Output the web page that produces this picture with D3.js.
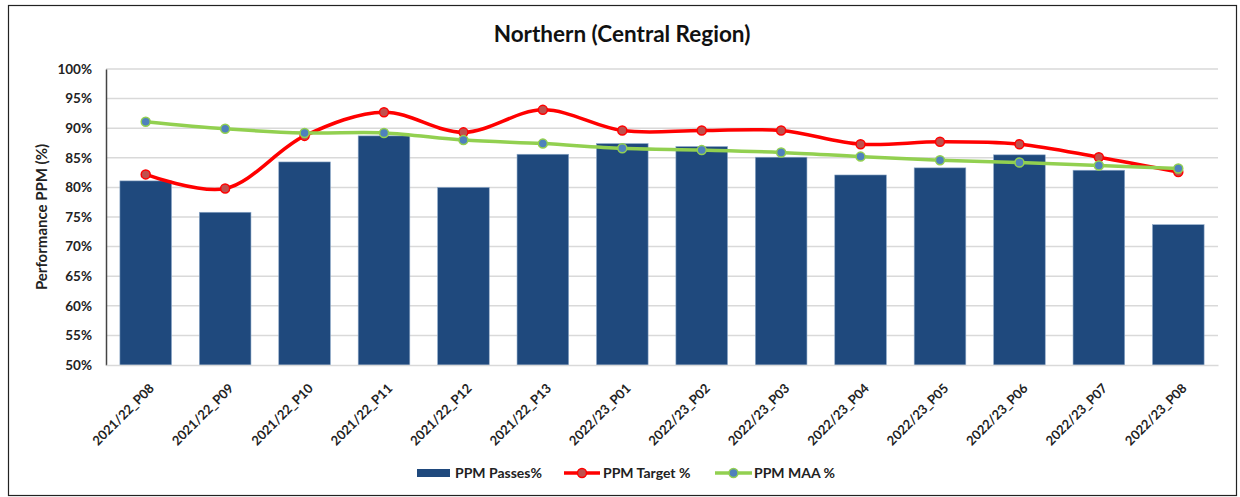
<!DOCTYPE html>
<html><head><meta charset="utf-8">
<script src="https://cdn.jsdelivr.net/npm/d3@7"></script>
<style>body{margin:0;background:#fff;}svg{display:block;font-family:Lato,"Open Sans",sans-serif;}</style>
</head><body><svg id="c" width="1240" height="497"></svg>
<script>
const categories = ["2021/22_P08","2021/22_P09","2021/22_P10","2021/22_P11","2021/22_P12","2021/22_P13","2022/23_P01","2022/23_P02","2022/23_P03","2022/23_P04","2022/23_P05","2022/23_P06","2022/23_P07","2022/23_P08"];
const passes = [81.1, 75.8, 84.3, 88.7, 80.0, 85.6, 87.4, 86.9, 85.1, 82.1, 83.3, 85.5, 82.9, 73.7];
const target = [82.2, 79.8, 88.7, 92.7, 89.3, 93.1, 89.6, 89.6, 89.6, 87.3, 87.7, 87.3, 85.1, 82.6];
const maa = [91.1, 89.9, 89.2, 89.2, 88.0, 87.4, 86.6, 86.3, 85.9, 85.2, 84.6, 84.2, 83.7, 83.2];
const yTicks = [50,55,60,65,70,75,80,85,90,95,100];
const seriesNames = ["PPM Passes%","PPM Target %","PPM MAA %"];

const svg = d3.select("#c");
const L = 106, R = 1218, T = 69, B = 365;
svg.append("rect").attr("x",8.5).attr("y",5.5).attr("width",1228).attr("height",490)
  .attr("fill","#fff").attr("stroke","#222").attr("stroke-width",1.2);

const x = d3.scaleBand().domain(categories).range([L,R]).paddingInner(0.35).paddingOuter(0.175);
const y = d3.scaleLinear().domain([50,100]).range([B,T]);

// grid
svg.append("g").selectAll("line").data(yTicks.slice(1)).join("line")
  .attr("x1",L).attr("x2",R).attr("y1",d=>y(d)).attr("y2",d=>y(d))
  .attr("stroke","#d9d9d9").attr("stroke-width",1.5);

// bars
svg.append("g").selectAll("rect").data(passes).join("rect")
  .attr("x",(d,i)=>x(categories[i])).attr("width",x.bandwidth())
  .attr("y",d=>y(d)).attr("height",d=>B-y(d))
  .attr("fill","#1f497d").attr("stroke","#8ea9c8").attr("stroke-width",0.6);

// axes
const yAxis = d3.axisLeft(y).tickValues(yTicks).tickFormat(d=>d+"%").tickSize(0).tickPadding(14);
const gy = svg.append("g").attr("transform",`translate(${L},0)`).call(yAxis);
gy.select(".domain").attr("stroke","#444").attr("stroke-width",1.5);
gy.selectAll("text").attr("font-size",13.5).attr("font-weight","bold").attr("fill","#222")
  .attr("font-family","Lato, 'Open Sans', sans-serif");

const xAxis = d3.axisBottom(x).tickSize(0).tickFormat(d=>d);
const gx = svg.append("g").attr("transform",`translate(0,${B})`).call(xAxis);
gx.select(".domain").attr("stroke","#d9d9d9").attr("stroke-width",1.5);
gx.selectAll(".tick text").attr("font-size",13).attr("font-weight","bold").attr("fill","#222")
  .attr("font-family","Lato, 'Open Sans', sans-serif")
  .attr("text-anchor","end").attr("x",0).attr("y",0).attr("dy","0.35em")
  .attr("transform","translate(6,21) rotate(-45)");

// lines
const cx = i => x(categories[i]) + x.bandwidth()/2;
const line = d3.line().x((d,i)=>cx(i)).y(d=>y(d)).curve(d3.curveCatmullRom.alpha(0.5));
svg.append("path").datum(target).attr("d",line).attr("fill","none").attr("stroke","#ff0000").attr("stroke-width",3.5);
svg.append("g").selectAll("circle").data(target).join("circle")
  .attr("cx",(d,i)=>cx(i)).attr("cy",d=>y(d)).attr("r",4.5)
  .attr("fill","#c0504d").attr("stroke","#ff0000").attr("stroke-width",1.5);
svg.append("path").datum(maa).attr("d",line).attr("fill","none").attr("stroke","#92d050").attr("stroke-width",3.5);
svg.append("g").selectAll("circle").data(maa).join("circle")
  .attr("cx",(d,i)=>cx(i)).attr("cy",d=>y(d)).attr("r",4.5)
  .attr("fill","#4f81bd").attr("stroke","#92d050").attr("stroke-width",1.5);

// title
svg.append("text").attr("x",622).attr("y",42).attr("text-anchor","middle")
  .attr("font-size",22.5).attr("font-weight","bold").attr("fill","#111").text("Northern (Central Region)");
// y label
svg.append("text").attr("transform","translate(47,217) rotate(-90)").attr("text-anchor","middle")
  .attr("font-size",15).attr("font-weight","bold").attr("fill","#222").text("Performance PPM (%)");

// legend
const lg = svg.append("g").attr("font-size",14).attr("font-weight","bold").attr("fill","#222");
lg.append("rect").attr("x",417).attr("y",469).attr("width",33).attr("height",8).attr("fill","#1f497d");
lg.append("text").attr("x",455).attr("y",478).text(seriesNames[0]);
lg.append("line").attr("x1",564).attr("x2",600).attr("y1",473).attr("y2",473).attr("stroke","#ff0000").attr("stroke-width",3.5);
lg.append("circle").attr("cx",582).attr("cy",473).attr("r",4.5).attr("fill","#c0504d").attr("stroke","#ff0000").attr("stroke-width",1.5);
lg.append("text").attr("x",603).attr("y",478).text(seriesNames[1]);
lg.append("line").attr("x1",715).attr("x2",752).attr("y1",473).attr("y2",473).attr("stroke","#92d050").attr("stroke-width",3.5);
lg.append("circle").attr("cx",733.5).attr("cy",473).attr("r",4.5).attr("fill","#4f81bd").attr("stroke","#92d050").attr("stroke-width",1.5);
lg.append("text").attr("x",754).attr("y",478).text(seriesNames[2]);
</script></body></html>
